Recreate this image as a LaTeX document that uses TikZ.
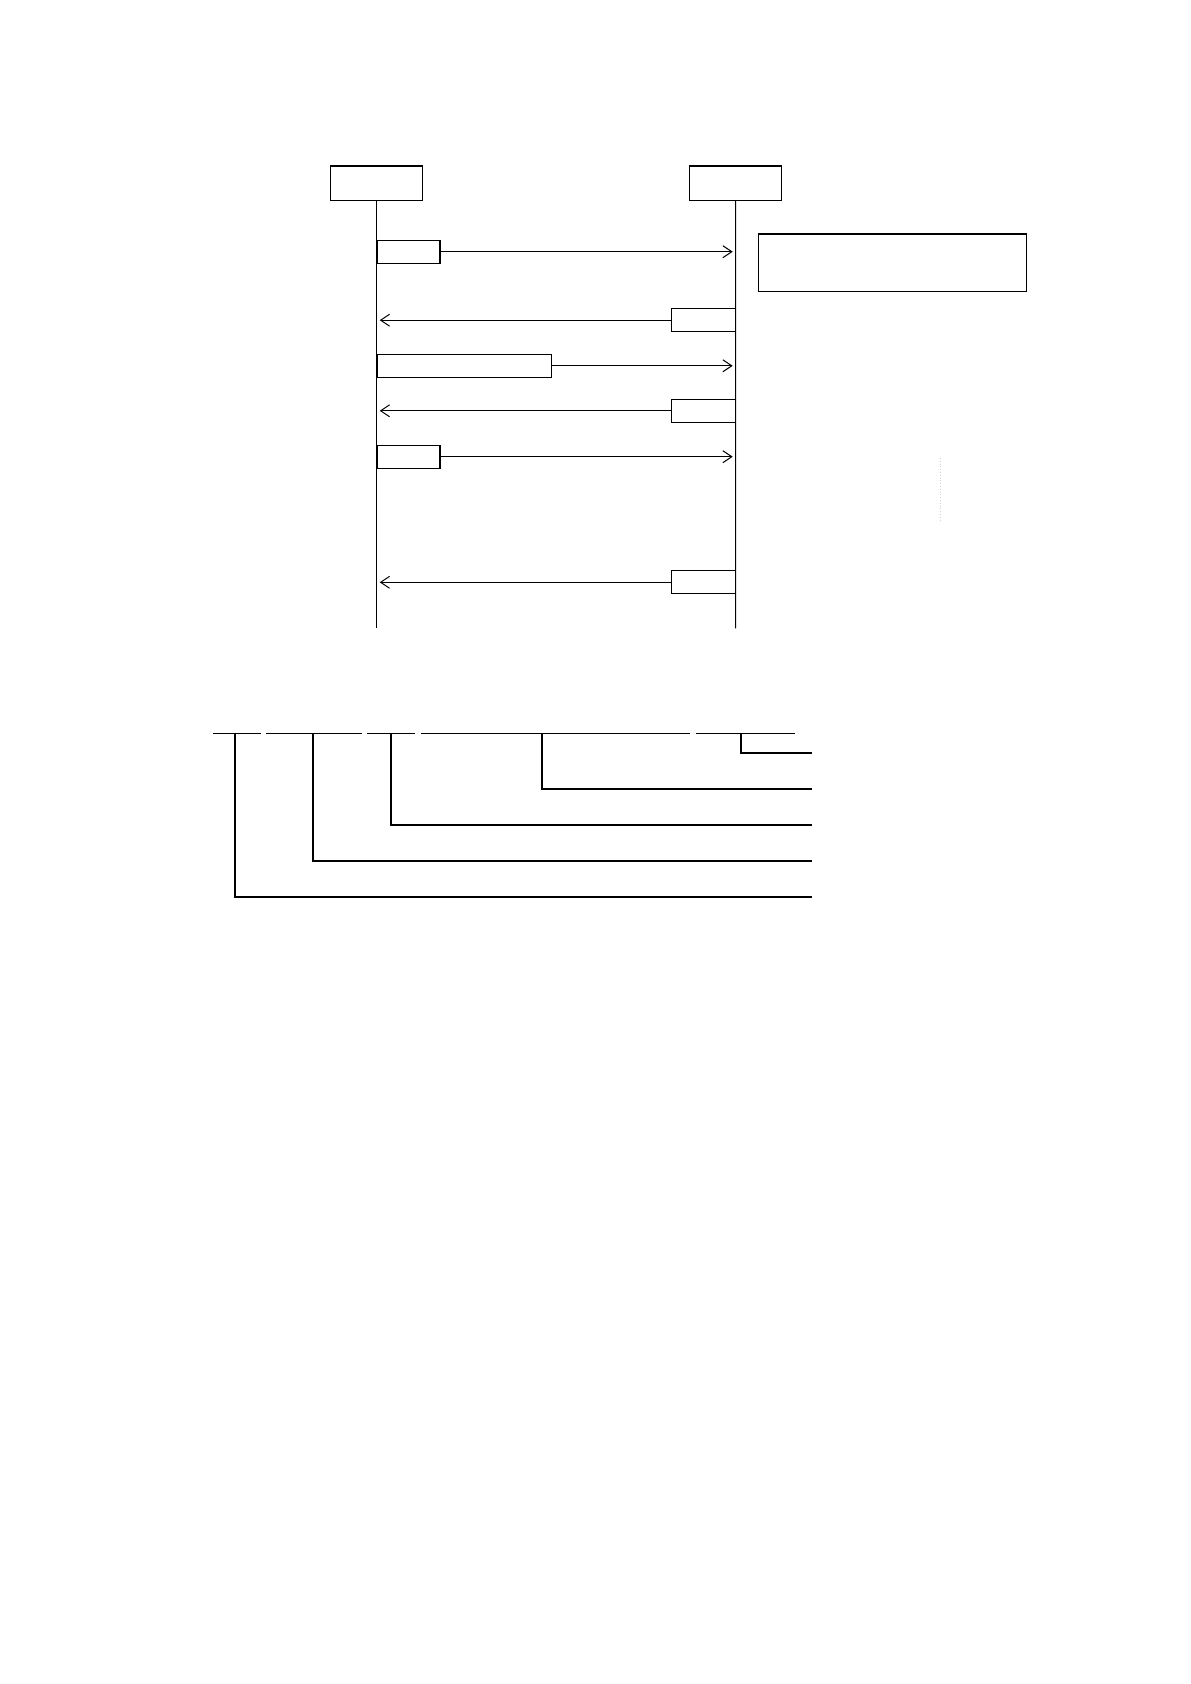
\documentclass[tikz,border=0pt]{standalone}
\usepackage{tikz}
\usetikzlibrary{arrows.meta}
\usetikzlibrary{calc}
\tikzset{
    >={Straight Barb[length=4.5pt,width=6pt]},
    headbox/.style={draw,line width=0.6pt,minimum width=46pt,minimum height=17.3pt,inner sep=0pt},
    msgbox/.style={draw,line width=0.6pt,minimum height=11.5pt,inner sep=0pt},
    lifeline/.style={line width=0.5pt},
    msg/.style={->,line width=0.5pt,shorten >=1.5pt},
    barline/.style={line width=0.45pt},
    tapline/.style={line width=0.8pt}
}

\begin{document}
\begin{tikzpicture}[x=0.5pt,y=-0.5pt]
        \useasboundingbox (0,0) rectangle (1190,1684);

        % entities
        \node [headbox] (entA) at (376.7,183.3) {};
        \node [headbox] (entB) at (735.6,183.3) {};
        \coordinate (endA) at (376.7,628.3);
        \coordinate (endB) at (735.7,628.3);
        \draw [lifeline] (entA.south) -- (endA);
        \draw [lifeline] (entB.south) -- (endB);

        % messages
        \node [msgbox,minimum width=31.3pt,anchor=west] (m1) at (376.7,251.7) {};
        \node [msgbox,minimum width=31.7pt,anchor=east] (m2) at (735.7,320.2) {};
        \node [msgbox,minimum width=87.2pt,anchor=west] (m3) at (376.7,365.8) {};
        \node [msgbox,minimum width=31.7pt,anchor=east] (m4) at (735.7,410.8) {};
        \node [msgbox,minimum width=31.3pt,anchor=west] (m5) at (376.7,456.7) {};
        \node [msgbox,minimum width=31.7pt,anchor=east] (m6) at (735.7,582.3) {};

        \draw [msg] (m1.east) -- (m1.east -| endB);
        \draw [msg] (m2.west) -- (m2.west -| endA);
        \draw [msg] (m3.east) -- (m3.east -| endB);
        \draw [msg] (m4.west) -- (m4.west -| endA);
        \draw [msg] (m5.east) -- (m5.east -| endB);
        \draw [msg] (m6.west) -- (m6.west -| endA);

        % note
        \node [draw,line width=0.6pt,minimum width=134.2pt,minimum height=28.7pt,inner sep=0pt] (note) at (892.5,262.7) {};
        \draw [gray!35,densely dotted,line width=0.4pt] (940.7,458) -- (940.7,520);

        % field layout
        \foreach \xa/\xb in {213.3/261, 266/361.7, 366.7/415, 421/690, 696/795}
            \draw [barline] (\xa,733.3) -- (\xb,733.3);
        \foreach \tx/\ty in {234.7/896.7, 313/860.7, 390.7/825, 541.7/788.7, 740.7/752.7}
            \draw [tapline] (\tx,733.3) |- (811.7,\ty);
    \end{tikzpicture}
\end{document}
